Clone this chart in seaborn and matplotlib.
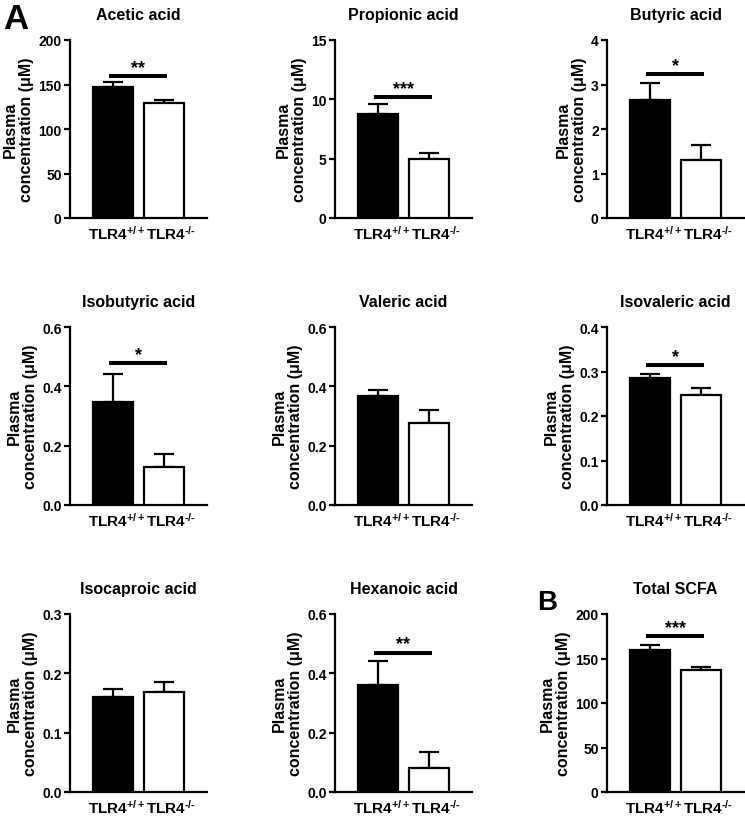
import numpy as np
import pandas as pd
import seaborn as sns
import matplotlib.pyplot as plt
import matplotlib.transforms as mtransforms
from matplotlib.ticker import FormatStrFormatter

# Values (mean and upper SEM)
groups = [r'TLR4$^{+/+}$', r'TLR4$^{\text{-/-}}$']
titles = ['Acetic acid', 'Propionic acid', 'Butyric acid',
          'Isobutyric acid', 'Valeric acid', 'Isovaleric acid',
          'Isocaproic acid', 'Hexanoic acid', 'Total SCFA']
wt_mean = [147.5, 8.76, 2.65, 0.347, 0.369, 0.285, 0.160, 0.361, 159.6]
wt_sem = [5.0, 0.85, 0.38, 0.093, 0.020, 0.010, 0.013, 0.081, 5.9]
ko_mean = [129.5, 4.97, 1.30, 0.129, 0.278, 0.247, 0.169, 0.082, 137.0]
ko_sem = [3.5, 0.53, 0.34, 0.044, 0.041, 0.015, 0.017, 0.054, 3.8]
y_max = [200, 15, 4, 0.6, 0.6, 0.4, 0.3, 0.6, 200]
y_step = [50, 5, 1, 0.2, 0.2, 0.1, 0.1, 0.2, 50]
stars = ['**', '***', '*', '*', '', '*', '', '**', '***']
star_y = [160, 10.2, 3.24, 0.478, 0, 0.315, 0, 0.47, 175]

sns.set_style('ticks', {'axes.edgecolor': 'black', 'text.color': 'black',
                        'axes.labelcolor': 'black', 'xtick.color': 'black',
                        'ytick.color': 'black'})
plt.rcParams['font.family'] = ['Liberation Sans', 'DejaVu Sans']
plt.rcParams['font.weight'] = 'bold'
plt.rcParams['mathtext.fontset'] = 'custom'
plt.rcParams['mathtext.rm'] = 'Liberation Sans:bold'
plt.rcParams['mathtext.bf'] = 'Liberation Sans:bold'
plt.rcParams['mathtext.default'] = 'bf'

W, H = 745, 820
fig = plt.figure(figsize=(W / 100, H / 100), dpi=100)

col_left = [70, 335, 607]
row_top = [41, 328, 615]
ax_w, ax_h = 137, 178
label_shift = [2.5, 5.0]  # points, spreads the two group labels a little

for i, title in enumerate(titles):
    r, c = divmod(i, 3)
    ax = fig.add_axes([col_left[c] / W, 1 - (row_top[r] + ax_h) / H, ax_w / W, ax_h / H])

    df = pd.DataFrame({'group': groups, 'value': [wt_mean[i], ko_mean[i]]})
    sns.barplot(data=df, x='group', y='value', hue='group',
                palette=['black', 'white'], edgecolor='black', linewidth=1.6,
                width=0.78, errorbar=None, legend=False, ax=ax, zorder=3)
    ax.errorbar([0, 1], [wt_mean[i], ko_mean[i]],
                yerr=[[0, 0], [wt_sem[i], ko_sem[i]]],
                fmt='none', ecolor='black', elinewidth=1.6, capsize=7,
                capthick=1.6, zorder=2)

    if stars[i]:
        ax.plot([-0.08, 1.06], [star_y[i], star_y[i]], color='black', lw=2.9,
                solid_capstyle='butt', zorder=4)
        ax.text(0.5, star_y[i], stars[i], ha='center', va='bottom',
                fontsize=13, fontweight='bold')

    ax.set_xlim(-0.84, 1.84)
    ax.set_ylim(0, y_max[i])
    ax.set_yticks(np.arange(0, y_max[i] + y_step[i] / 2, y_step[i]))
    ax.yaxis.set_major_formatter(FormatStrFormatter('%d' if y_step[i] >= 1 else '%.1f'))
    ax.set_xlabel('')
    ax.set_ylabel('Plasma\nconcentration (\u03bcM)', fontsize=11.5, fontweight='bold',
                  labelpad=3, linespacing=1.1)
    ax.set_title(title, fontsize=11.5, fontweight='bold', pad=15)
    sns.despine(ax=ax)
    for s in ['left', 'bottom']:
        ax.spines[s].set_linewidth(1.6)
    ax.tick_params(axis='y', length=4, width=1.6, labelsize=10, pad=2)
    ax.tick_params(axis='x', length=0, labelsize=11, pad=4)
    for lab in ax.get_yticklabels():
        lab.set_fontweight('bold')
    for k, lab in enumerate(ax.get_xticklabels()):
        lab.set_fontweight('bold')
        shift = mtransforms.ScaledTranslation(label_shift[k] / 72, 0, fig.dpi_scale_trans)
        lab.set_transform(lab.get_transform() + shift)

fig.text(3 / W, 1 - 3 / H, 'A', fontsize=25, fontweight='bold', va='top')
fig.text(537 / W, 1 - 590 / H, 'B', fontsize=20, fontweight='bold', va='top')

plt.savefig('out.png', dpi=100)
